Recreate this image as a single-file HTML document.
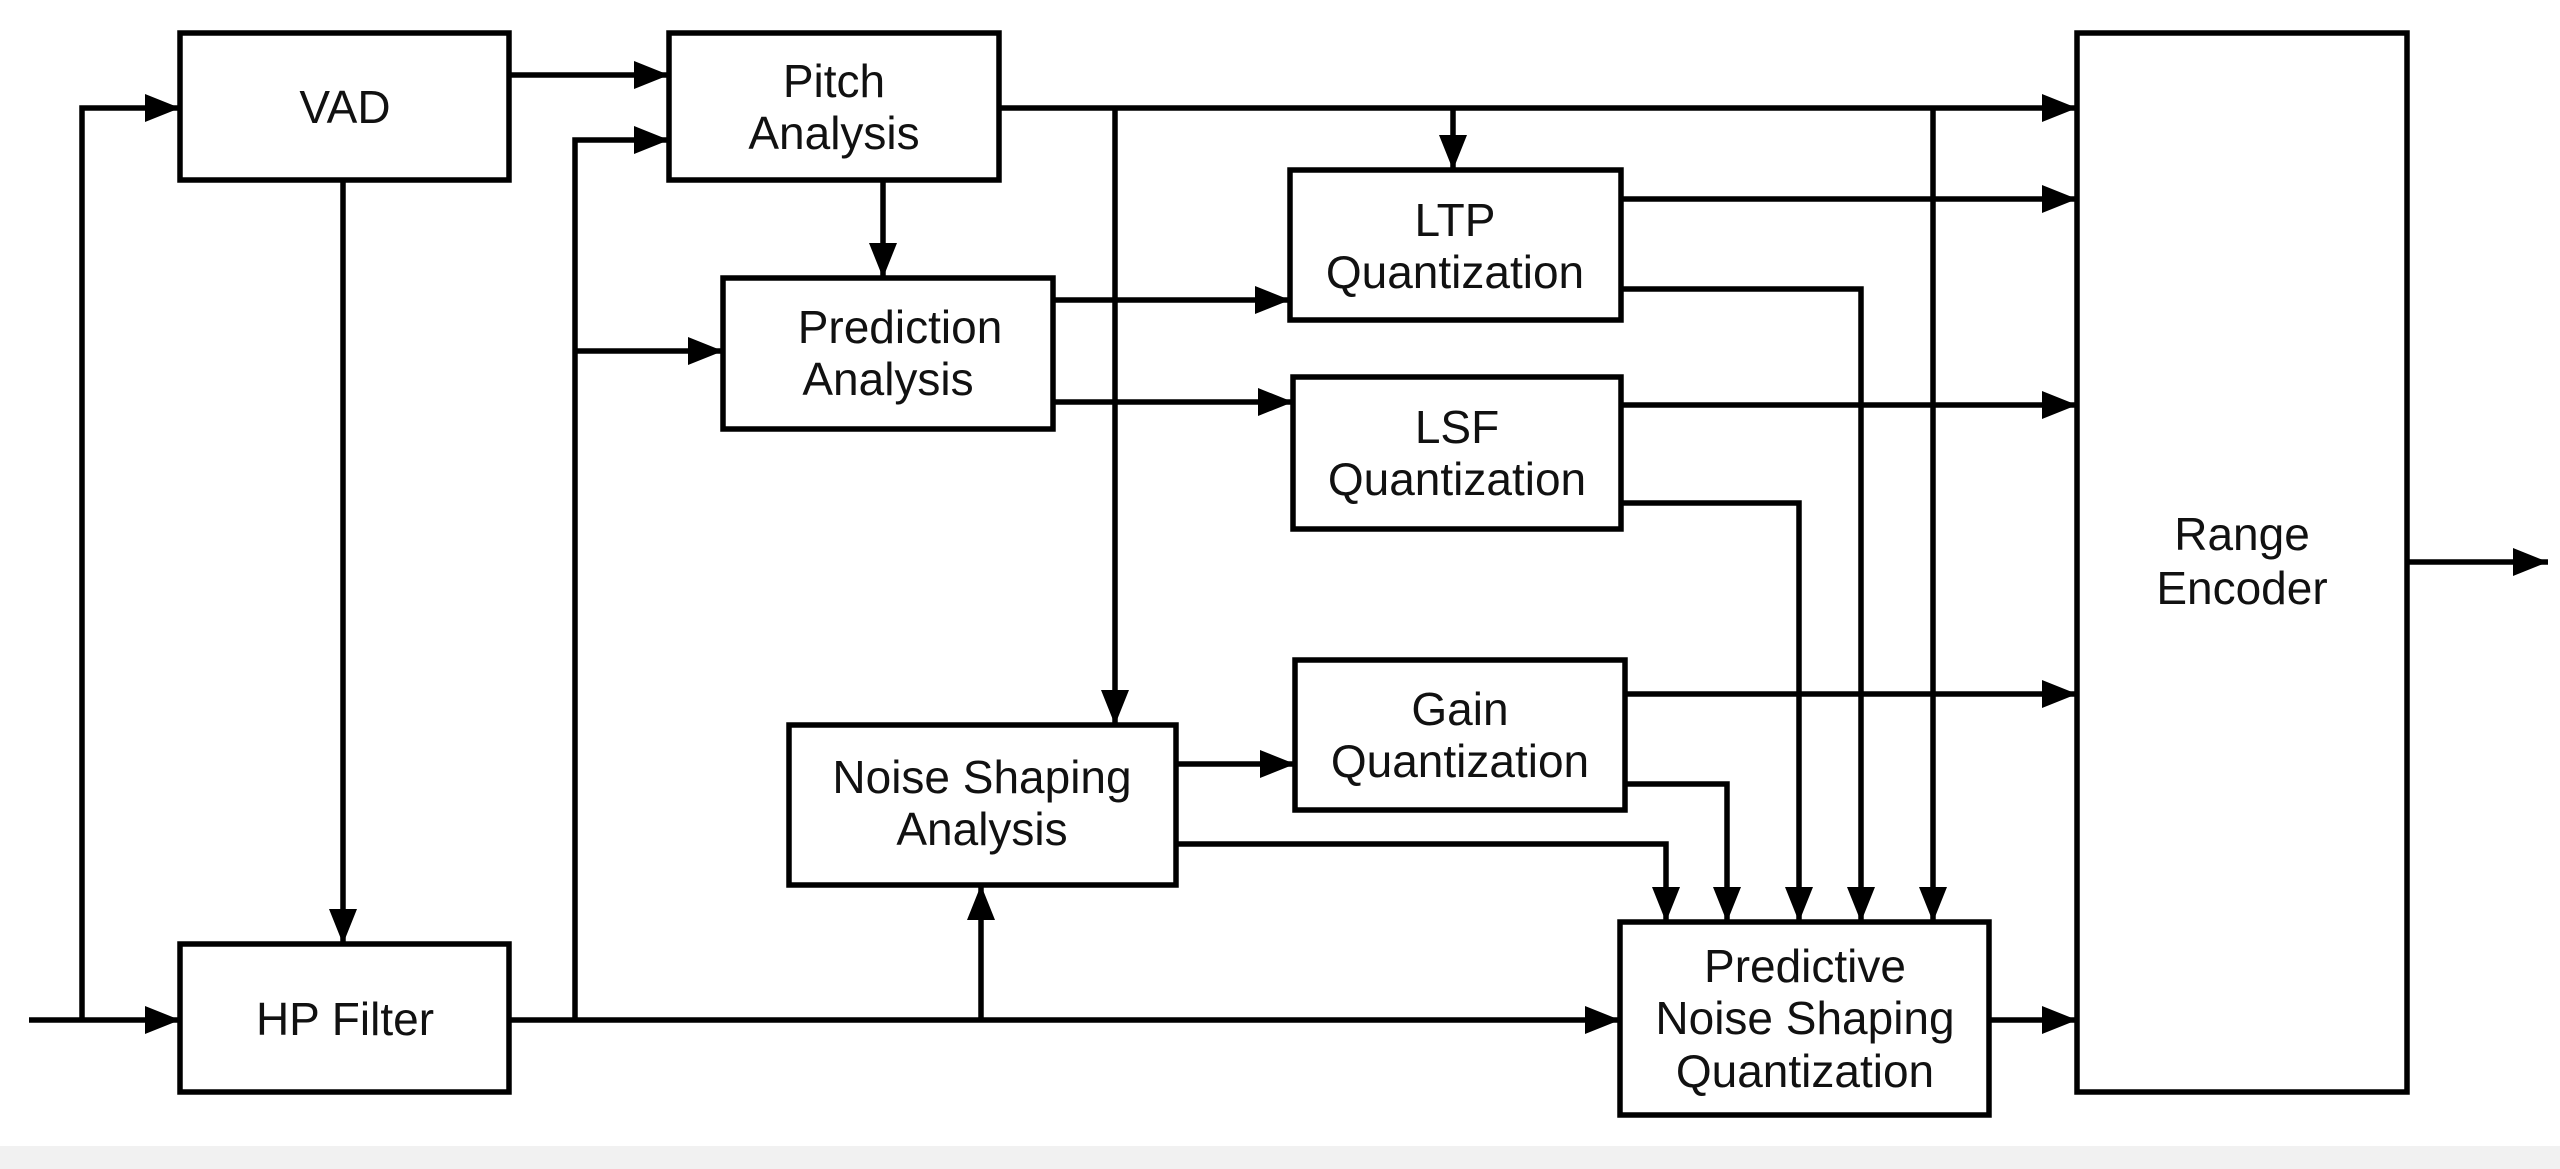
<!DOCTYPE html>
<html><head><style>
html,body{margin:0;padding:0;background:#fff;}
svg{display:block}
text{font-family:"Liberation Sans",Arial,sans-serif;font-size:46px;fill:#111;text-anchor:middle}
</style></head><body>
<svg width="2560" height="1169" viewBox="0 0 2560 1169">
<defs>
<marker id="b" viewBox="0 0 10 8" refX="10" refY="4" markerWidth="36" markerHeight="28" orient="auto" markerUnits="userSpaceOnUse"><path d="M0,0 L10,4 L0,8z" fill="#000"/></marker></defs>
<rect x="0" y="1146" width="2560" height="23" fill="#f1f1f1"/>
<g fill="none" stroke="#000" stroke-width="5.5">
<rect x="180" y="33" width="329" height="147"/>
<rect x="669" y="33" width="330" height="147"/>
<rect x="723" y="278" width="330" height="151"/>
<rect x="1290" y="170" width="331" height="150"/>
<rect x="1293" y="377" width="328" height="152"/>
<rect x="1295" y="660" width="330" height="150"/>
<rect x="789" y="725" width="387" height="160"/>
<rect x="180" y="944" width="329" height="148"/>
<rect x="1620" y="922" width="369" height="193"/>
<rect x="2077" y="33" width="330" height="1059"/>
</g>
<g fill="none" stroke="#000" stroke-width="5.5" marker-end="url(#b)">
<path d="M29,1020 H180"/>
<path d="M82,1020 V108 H180"/>
<path d="M509,75 H669"/>
<path d="M343,180 V944"/>
<path d="M509,1020 H1620"/>
<path d="M575,1020 V140 H669"/>
<path d="M575,351 H723"/>
<path d="M981,1020 V885"/>
<path d="M883,180 V278"/>
<path d="M999,108 H2077"/>
<path d="M1115,108 V725"/>
<path d="M1453,108 V170"/>
<path d="M1933,108 V922"/>
<path d="M1053,300 H1290"/>
<path d="M1053,402 H1293"/>
<path d="M1621,199 H2077"/>
<path d="M1621,289 H1861 V922"/>
<path d="M1621,405 H2077"/>
<path d="M1621,503 H1799 V922"/>
<path d="M1625,694 H2077"/>
<path d="M1625,784 H1727 V922"/>
<path d="M1176,764 H1295"/>
<path d="M1176,844 H1666 V922"/>
<path d="M1989,1020 H2077"/>
<path d="M2407,562 H2548"/>
</g>
<text x="345" y="123">VAD</text>
<text x="834" y="97">Pitch</text>
<text x="834" y="149">Analysis</text>
<text x="900" y="343">Prediction</text>
<text x="888" y="395">Analysis</text>
<text x="1455" y="236">LTP</text>
<text x="1455" y="288">Quantization</text>
<text x="1457" y="443">LSF</text>
<text x="1457" y="495">Quantization</text>
<text x="1460" y="725">Gain</text>
<text x="1460" y="777">Quantization</text>
<text x="982" y="793">Noise Shaping</text>
<text x="982" y="845">Analysis</text>
<text x="345" y="1035">HP Filter</text>
<text x="1805" y="982">Predictive</text>
<text x="1805" y="1034">Noise Shaping</text>
<text x="1805" y="1087">Quantization</text>
<text x="2242" y="550">Range</text>
<text x="2242" y="604">Encoder</text>
</svg>
</body></html>
